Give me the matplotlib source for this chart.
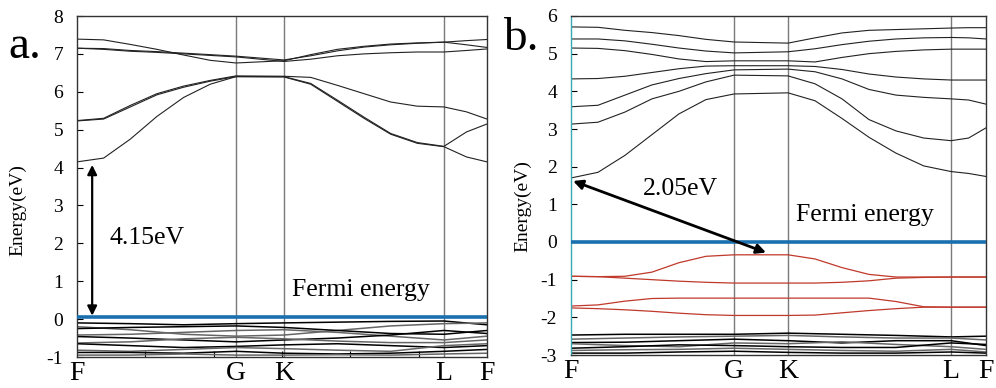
import numpy as np
import matplotlib.pyplot as plt

plt.rcParams['font.family'] = ['Liberation Serif', 'DejaVu Serif']

# k-path sample positions (fraction of path length)
xa = [0, 0.065, 0.13, 0.195, 0.26, 0.325, 0.388, 0.505, 0.57, 0.635, 0.7, 0.765, 0.83, 0.895, 0.95, 1.0]
xb = [0, 0.065, 0.13, 0.195, 0.26, 0.325, 0.393, 0.523, 0.588, 0.653, 0.718, 0.783, 0.85, 0.916, 0.958, 1.0]
xva = [0, 0.13, 0.26, 0.388, 0.505, 0.635, 0.765, 0.895, 1.0]
xvb = [0, 0.13, 0.26, 0.393, 0.523, 0.653, 0.783, 0.916, 1.0]

sym_a = [0, 0.388, 0.505, 0.895, 1.0]
sym_b = [0, 0.393, 0.523, 0.916, 1.0]
sym_labels = ['F', 'G', 'K', 'L', 'F']

# --- structure a: conduction bands
a_b1 = [4.15, 4.25, 4.75, 5.35, 5.85, 6.20, 6.40, 6.39, 6.20, 5.75, 5.30, 4.88, 4.64, 4.55, 4.28, 4.15]
a_b2 = [5.23, 5.28, 5.60, 5.92, 6.12, 6.28, 6.40, 6.40, 6.22, 5.78, 5.33, 4.90, 4.66, 4.56, 4.94, 5.15]
a_b3 = [5.24, 5.30, 5.64, 5.95, 6.15, 6.30, 6.42, 6.41, 6.38, 6.17, 5.95, 5.73, 5.62, 5.60, 5.47, 5.28]
a_u1 = [7.39, 7.37, 7.25, 7.12, 6.97, 6.83, 6.76, 6.82, 6.98, 7.12, 7.20, 7.26, 7.29, 7.31, 7.35, 7.38]
a_u2 = [7.15, 7.14, 7.09, 7.06, 7.02, 6.98, 6.94, 6.84, 6.95, 7.08, 7.18, 7.24, 7.28, 7.31, 7.24, 7.17]
a_u3 = [7.15, 7.12, 7.07, 7.04, 7.00, 6.96, 6.92, 6.80, 6.86, 6.95, 7.00, 7.03, 7.05, 7.05, 7.09, 7.13]
a_cond = [a_b1, a_b2, a_b3, a_u1, a_u2, a_u3]

# --- structure a: valence bands
a_val = [
    [-0.10, -0.12, -0.15, -0.12, -0.10, -0.08, -0.06, -0.05, -0.15],
    [-0.20, -0.28, -0.40, -0.45, -0.42, -0.30, -0.18, -0.12, -0.10],
    [-0.25, -0.22, -0.20, -0.18, -0.22, -0.30, -0.38, -0.40, -0.30],
    [-0.42, -0.40, -0.35, -0.30, -0.28, -0.35, -0.45, -0.55, -0.45],
    [-0.46, -0.50, -0.55, -0.60, -0.55, -0.50, -0.42, -0.30, -0.38],
    [-0.63, -0.60, -0.52, -0.48, -0.52, -0.58, -0.62, -0.62, -0.55],
    [-0.65, -0.70, -0.75, -0.72, -0.68, -0.65, -0.70, -0.75, -0.70],
    [-0.82, -0.85, -0.80, -0.75, -0.78, -0.82, -0.85, -0.70, -0.65],
    [-0.88, -0.88, -0.90, -0.85, -0.90, -0.92, -0.90, -0.85, -0.80],
    [-0.95, -0.95, -0.92, -0.95, -0.95, -0.94, -0.95, -0.92, -0.90],
]

# --- structure b: conduction bands
b_c1 = [1.70, 1.85, 2.30, 2.85, 3.40, 3.78, 3.93, 3.96, 3.75, 3.28, 2.78, 2.36, 2.02, 1.87, 1.82, 1.74]
b_c2 = [3.13, 3.18, 3.45, 3.80, 4.00, 4.25, 4.43, 4.41, 4.20, 3.80, 3.25, 2.95, 2.76, 2.69, 2.76, 3.03]
b_c3 = [3.59, 3.63, 3.90, 4.17, 4.34, 4.47, 4.57, 4.59, 4.52, 4.33, 4.05, 3.90, 3.84, 3.80, 3.77, 3.66]
b_c4 = [4.33, 4.34, 4.40, 4.50, 4.60, 4.67, 4.68, 4.68, 4.66, 4.58, 4.46, 4.38, 4.33, 4.30, 4.30, 4.30]
b_c5 = [5.15, 5.14, 5.08, 4.98, 4.86, 4.79, 4.81, 4.81, 4.78, 4.90, 5.00, 5.06, 5.10, 5.12, 5.12, 5.12]
b_c6 = [5.39, 5.39, 5.34, 5.25, 5.15, 5.07, 5.02, 5.05, 5.13, 5.24, 5.33, 5.39, 5.42, 5.43, 5.42, 5.39]
b_c7 = [5.71, 5.70, 5.62, 5.56, 5.48, 5.38, 5.31, 5.28, 5.42, 5.55, 5.62, 5.64, 5.66, 5.68, 5.69, 5.69]
b_cond = [b_c1, b_c2, b_c3, b_c4, b_c5, b_c6, b_c7]

# --- structure b: impurity (red) bands
b_r1 = [-0.91, -0.92, -0.91, -0.80, -0.55, -0.38, -0.34, -0.34, -0.45, -0.68, -0.86, -0.93, -0.93, -0.93, -0.93, -0.93]
b_r2 = [-0.91, -0.92, -0.96, -1.00, -1.04, -1.07, -1.09, -1.09, -1.09, -1.07, -1.03, -0.96, -0.94, -0.93, -0.93, -0.93]
b_r3 = [-1.70, -1.67, -1.57, -1.50, -1.49, -1.49, -1.49, -1.49, -1.49, -1.49, -1.49, -1.58, -1.72, -1.73, -1.73, -1.73]
b_r4 = [-1.75, -1.77, -1.80, -1.84, -1.89, -1.93, -1.95, -1.95, -1.94, -1.88, -1.82, -1.77, -1.73, -1.73, -1.73, -1.73]
b_red = [b_r1, b_r2, b_r3, b_r4]

# --- structure b: deep valence bands
b_val = [
    [-2.47, -2.45, -2.45, -2.45, -2.42, -2.45, -2.48, -2.52, -2.50],
    [-2.58, -2.55, -2.52, -2.50, -2.48, -2.52, -2.55, -2.55, -2.60],
    [-2.67, -2.66, -2.62, -2.58, -2.62, -2.68, -2.62, -2.62, -2.75],
    [-2.70, -2.75, -2.78, -2.68, -2.70, -2.65, -2.72, -2.78, -2.85],
    [-2.82, -2.78, -2.73, -2.75, -2.78, -2.80, -2.80, -2.68, -2.72],
    [-2.88, -2.86, -2.85, -2.82, -2.85, -2.88, -2.90, -2.85, -2.92],
    [-2.95, -2.95, -2.92, -2.90, -2.93, -2.95, -2.95, -2.92, -2.95],
]

fermi_a = 0.05
fermi_b = 0.0
gap_a = '4.15eV'
gap_b = '2.05eV'

fermi_col = '#1a6faf'
grid_col = '#7a7a7a'


def setup(ax, sym, ylim, yticks, label_xy):
    ax.set_xlim(0, 1)
    ax.set_ylim(*ylim)
    ax.set_yticks(yticks)
    ax.set_yticklabels([str(t) for t in yticks])
    ax.set_xticks(sym)
    ax.set_xticklabels(sym_labels)
    for s in sym[1:-1]:
        ax.axvline(s, color=grid_col, lw=1.0, zorder=1)
    ax.tick_params(axis='y', direction='in', length=4, width=0.8, pad=10, labelsize=14)
    ax.tick_params(axis='x', direction='in', length=0, pad=3, labelsize=20)
    for sp in ax.spines.values():
        sp.set_color('#333333')
        sp.set_linewidth(1.0)
    ax.set_ylabel('Energy(eV)', fontsize=14)
    ax.yaxis.set_label_coords(*label_xy)


fig = plt.figure(figsize=(9.96, 3.88), dpi=100)

# ---------- panel a
ax = fig.add_axes([77 / 996, 31 / 388, 410 / 996, 341 / 388])
setup(ax, sym_a, (-1, 8), list(range(-1, 9)), (-0.124, 0.43))
ax.set_xticks(np.arange(1, 6) / 6, minor=True)
ax.tick_params(axis='x', which='minor', direction='in', length=4, width=0.8)
for band in a_cond:
    ax.plot(xa, band, color='#222222', lw=0.8, zorder=2)
for i, band in enumerate(a_val):
    ax.plot(xva, band, color='black' if i % 2 == 0 else '#666666', lw=1.1, zorder=2)
ax.axhline(fermi_a, color=fermi_col, lw=2.6, zorder=3)
ax.annotate('', xy=(0.037, 4.07), xytext=(0.037, fermi_a + 0.04),
            arrowprops=dict(arrowstyle='<|-|>', color='black', lw=1.6,
                            mutation_scale=14, shrinkA=0, shrinkB=0))
ax.text(0.08, 2.15, gap_a, fontsize=18.5, ha='left', va='center')
ax.text(0.524, 0.77, 'Fermi energy', fontsize=18.5, ha='left', va='center')
fig.text(8 / 996, 1 - 58 / 388, 'a.', fontsize=34, ha='left', va='baseline')

# ---------- panel b
ax = fig.add_axes([571 / 996, 33 / 388, 415 / 996, 339 / 388])
setup(ax, sym_b, (-3, 6), list(range(-3, 7)), (-0.096, 0.44))
ax.spines['left'].set_color('#3aa8b0')
for band in b_cond:
    ax.plot(xb, band, color='#222222', lw=0.8, zorder=2)
for band in b_red:
    ax.plot(xb, band, color='#c0392b', lw=0.9, zorder=2)
for i, band in enumerate(b_val):
    ax.plot(xvb, band, color='black' if i % 2 == 0 else '#666666', lw=1.1, zorder=2)
ax.axhline(fermi_b, color=fermi_col, lw=2.6, zorder=3)
ax.annotate('', xy=(0.005, 1.62), xytext=(0.47, -0.28),
            arrowprops=dict(arrowstyle='<|-|>', color='black', lw=2.0,
                            mutation_scale=14, shrinkA=0, shrinkB=0), zorder=4)
ax.text(0.173, 1.41, gap_b, fontsize=18.5, ha='left', va='center')
ax.text(0.542, 0.72, 'Fermi energy', fontsize=18.5, ha='left', va='center')
fig.text(503 / 996, 1 - 50 / 388, 'b.', fontsize=34, ha='left', va='baseline')

fig.savefig('out.png', dpi=100)
